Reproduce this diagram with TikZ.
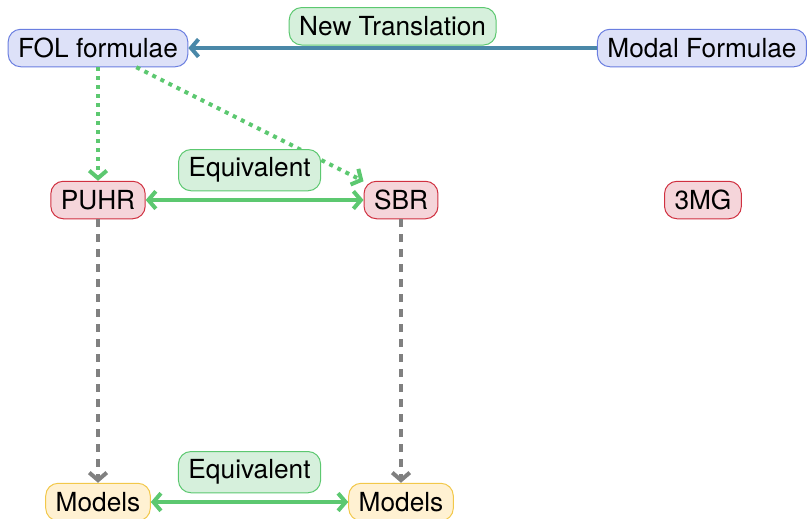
\documentclass[tikz,border=0pt]{standalone}
\usepackage{fontspec}
\setmainfont{TeX Gyre Heros}
\usepackage{tikz}
\usetikzlibrary{positioning, arrows.meta}

\definecolor{bluefill}{HTML}{DDE1F8}
\definecolor{blueline}{HTML}{6A7EE0}
\definecolor{redfill}{HTML}{F5D5DA}
\definecolor{redline}{HTML}{D03040}
\definecolor{greenfill}{HTML}{D6F0DC}
\definecolor{greenline}{HTML}{5CC870}
\definecolor{yellowfill}{HTML}{FFF1D2}
\definecolor{yellowline}{HTML}{F2C84A}
\definecolor{transline}{HTML}{4A88A8}
\definecolor{grayline}{HTML}{808080}

\begin{document}
\begin{tikzpicture}[font=\fontsize{10.5}{12}\selectfont, >={Straight Barb[length=3pt, width=7pt]}]
        % Define styles for shapes
        \tikzstyle{box} = [draw, solid, line width=0.4pt, rounded corners=5pt, minimum height=15pt, inner xsep=4pt, inner ysep=2pt]
        \tikzstyle{formbox} = [box, fill=bluefill, draw=blueline]
        \tikzstyle{calcbox} = [box, fill=redfill, draw=redline]
        \tikzstyle{modelbox} = [box, fill=yellowfill, draw=yellowline]
        \tikzstyle{eqlabel} = [box, fill=greenfill, draw=greenline]
        \tikzstyle{transl} = [draw=transline, line width=1.6pt, ->]
        \tikzstyle{equiv} = [draw=greenline, line width=1.6pt, <->]
        \tikzstyle{embed} = [draw=greenline, line width=1.6pt, dotted, ->]
        \tikzstyle{sem} = [draw=grayline, line width=1.6pt, dashed, ->]
        \useasboundingbox (0,0) rectangle (11.346,-7.283);
        % Draw shapes
        \node[formbox] (fol) at (1.378, -0.675) {FOL formulae};
        \node[formbox] (modal) at (9.869, -0.675) {Modal Formulae};
        \node[calcbox] (puhr) at (1.378, -2.812) {PUHR};
        \node[calcbox] (sbr) at (5.638, -2.812) {SBR};
        \node[calcbox] (tmg) at (9.883, -2.812) {3MG};
        \node[modelbox] (models1) at (1.378, -7.058) {Models};
        \node[modelbox] (models2) at (5.638, -7.058) {Models};

        % Draw arrows
        \draw[transl] (modal) -- (fol) node[midway, above=1pt, eqlabel] {New Translation};
        \draw[embed] (fol) -- (puhr);
        \draw[embed] (fol) -- (sbr);
        \draw[equiv] (puhr) -- (sbr) node[midway, above=3.5pt, xshift=-2pt, eqlabel, minimum height=16.5pt] {Equivalent};
        \draw[sem] (puhr) -- (models1);
        \draw[sem] (sbr) -- (models2);
        \draw[equiv] (models1) -- (models2) node[midway, above=3.5pt, eqlabel, minimum height=16.5pt] {Equivalent};
    \end{tikzpicture}
\end{document}
